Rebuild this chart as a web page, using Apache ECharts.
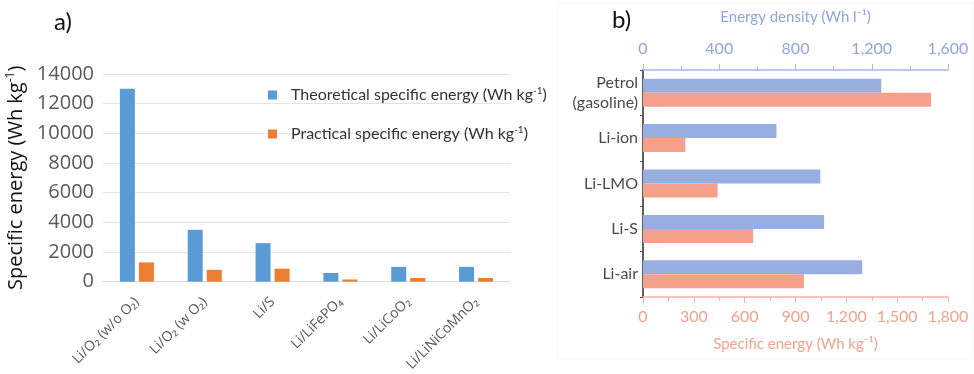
<!DOCTYPE html>
<html>
<head>
<meta charset="utf-8">
<script src="https://cdn.jsdelivr.net/npm/echarts@6/dist/echarts.min.js"></script>
<style>
html,body{margin:0;padding:0;background:#fff;}
#c{width:974px;height:374px;}
</style>
</head>
<body>
<div id="c"></div>
<script>
// ---- data: panel a ----
var leftCategories = ['Li/O\u2082 (w/o O\u2082)', 'Li/O\u2082 (w O\u2082)', 'Li/S', 'Li/LiFePO\u2084', 'Li/LiCoO\u2082', 'Li/LiNiCoMnO\u2082'];
var theoreticalEnergy = [13000, 3500, 2600, 590, 1000, 1000];
var practicalEnergy = [1300, 800, 880, 150, 250, 250];
var leftTicks = { min: 0, max: 14000, interval: 2000 };

// ---- data: panel b ----
var rightCategories = ['Petrol\n(gasoline)', 'Li-ion', 'Li-LMO', 'Li-S', 'Li-air'];
var energyDensity = [1250, 700, 930, 950, 1150];
var specificEnergy = [1700, 250, 440, 650, 950];
var topTicks = { min: 0, max: 1600, interval: 400 };
var bottomTicks = { min: 0, max: 1800, interval: 300 };

function comma(v) { return String(v).replace(/\B(?=(\d{3})+(?!\d))/g, ','); }

var chart = echarts.init(document.getElementById('c'), null, { renderer: 'canvas' });
var leftFont = '"Open Sans", "Noto Sans", sans-serif';
var rightFont = 'Lato, "Noto Sans", sans-serif';
var blueR = '#97aee0', salmonR = '#f5a08a';
var blueTxt = '#8fa5de', salmonTxt = '#f3a28d';

chart.setOption({
  backgroundColor: '#ffffff',
  animation: false,
  graphic: [
    { type: 'rect', shape: { x: 557, y: 3, width: 416, height: 356 }, style: { fill: 'none', stroke: '#f6f6f6', lineWidth: 1 }, z: -1 },
    { type: 'text', left: 54, top: 10, style: { text: 'a)', font: '24px Lato, sans-serif', fill: '#111' } },
    { type: 'text', left: 612, top: 8, style: { text: 'b)', font: '24px Lato, sans-serif', fill: '#111' } }
  ],
  legend: {
    orient: 'vertical',
    left: 263,
    top: 81,
    itemWidth: 9,
    itemHeight: 9,
    itemGap: 22,
    icon: 'rect',
    data: ['t', 'p'],
    formatter: function (n) {
      return n === 't' ? '{sp|}{a|Theoretical specific energy (Wh kg}{s|-1}{a|)}' : '{sp|}{a|Practical specific energy (Wh kg}{s|-1}{a|)}';
    },
    textStyle: {
      rich: {
        sp: { width: 9 },
        a: { fontSize: 16, color: '#333', fontFamily: 'Lato, sans-serif' },
        s: { fontSize: 10, color: '#333', fontFamily: 'Lato, sans-serif', padding: [0, 0, 8, 0] }
      }
    }
  },
  grid: [
    { left: 103, right: 464, top: 74, bottom: 90 },
    { left: 643, right: 26, top: 70, bottom: 77 }
  ],
  xAxis: [
    {
      type: 'category', gridIndex: 0, data: leftCategories,
      axisLine: { lineStyle: { color: '#d9d9d9' } },
      axisTick: { show: false },
      axisLabel: { interval: 0, rotate: 45, margin: 18, fontSize: 14, color: '#595959', fontFamily: leftFont }
    },
    {
      type: 'value', gridIndex: 1, position: 'top',
      min: topTicks.min, max: topTicks.max, interval: topTicks.interval,
      axisLine: { show: true, lineStyle: { color: '#a9b9e8', width: 1.5 } },
      axisTick: { show: true, length: 6, lineStyle: { color: '#a9b9e8' } },
      minorTick: { show: true, splitNumber: 2, length: 4, lineStyle: { color: '#a9b9e8' } },
      splitLine: { show: false },
      axisLabel: { fontSize: 16, color: blueTxt, fontFamily: rightFont, margin: 13, formatter: comma },
      name: 'Energy density (Wh l\u207B\u00B9)', nameLocation: 'middle', nameGap: 45,
      nameTextStyle: { fontSize: 15, color: blueTxt, fontFamily: rightFont }
    },
    {
      type: 'value', gridIndex: 1, position: 'bottom',
      min: bottomTicks.min, max: bottomTicks.max, interval: bottomTicks.interval,
      axisLine: { show: true, lineStyle: { color: '#f6b1a0', width: 1.5 } },
      axisTick: { show: true, length: 6, lineStyle: { color: '#f6b1a0' } },
      minorTick: { show: true, splitNumber: 2, length: 4, lineStyle: { color: '#f6b1a0' } },
      splitLine: { show: false },
      axisLabel: { fontSize: 16, color: salmonTxt, fontFamily: rightFont, margin: 12, formatter: comma },
      name: 'Specific energy (Wh kg\u207B\u00B9)', nameLocation: 'middle', nameGap: 40,
      nameTextStyle: { fontSize: 15, color: salmonTxt, fontFamily: rightFont }
    }
  ],
  yAxis: [
    {
      type: 'value', gridIndex: 0,
      min: leftTicks.min, max: leftTicks.max, interval: leftTicks.interval,
      axisLine: { show: false }, axisTick: { show: false },
      splitLine: { lineStyle: { color: '#e3e3e3' } },
      axisLabel: { fontSize: 20, color: '#595959', fontFamily: leftFont, margin: 9, formatter: function (v) { return String(v); } },
      name: '{a|Specific energy (Wh kg}{s|-1}{a|)}', nameLocation: 'middle', nameGap: 76,
      nameTextStyle: {
        rich: {
          a: { fontSize: 20, color: '#111', fontFamily: leftFont },
          s: { fontSize: 12, color: '#111', fontFamily: leftFont, padding: [0, 0, 10, 0] }
        }
      }
    },
    {
      type: 'category', gridIndex: 1, data: rightCategories, inverse: true,
      axisLine: { show: true, lineStyle: { color: '#555', width: 1.5 } },
      axisTick: { show: true, length: 3, lineStyle: { color: '#555' } },
      axisLabel: { fontSize: 16, color: '#4a4a4a', fontFamily: rightFont, margin: 5, lineHeight: 20 }
    },
    {
      type: 'category', gridIndex: 1, data: rightCategories, inverse: true, position: 'right',
      axisLine: { show: true, lineStyle: { color: '#555', width: 1.5 } },
      axisTick: { show: false },
      axisLabel: { show: false }
    }
  ],
  series: [
    { name: 't', type: 'bar', xAxisIndex: 0, yAxisIndex: 0, data: theoreticalEnergy, barWidth: 15, barGap: '27%', itemStyle: { color: '#5b9bd5' } },
    { name: 'p', type: 'bar', xAxisIndex: 0, yAxisIndex: 0, data: practicalEnergy, barWidth: 15, barGap: '27%', itemStyle: { color: '#ed7d31' } },
    { name: 'ed', type: 'bar', xAxisIndex: 1, yAxisIndex: 1, data: energyDensity, barWidth: 14, barGap: '0%', itemStyle: { color: blueR } },
    { name: 'se', type: 'bar', xAxisIndex: 2, yAxisIndex: 1, data: specificEnergy, barWidth: 14, barGap: '0%', itemStyle: { color: salmonR } }
  ]
});
</script>
</body>
</html>
